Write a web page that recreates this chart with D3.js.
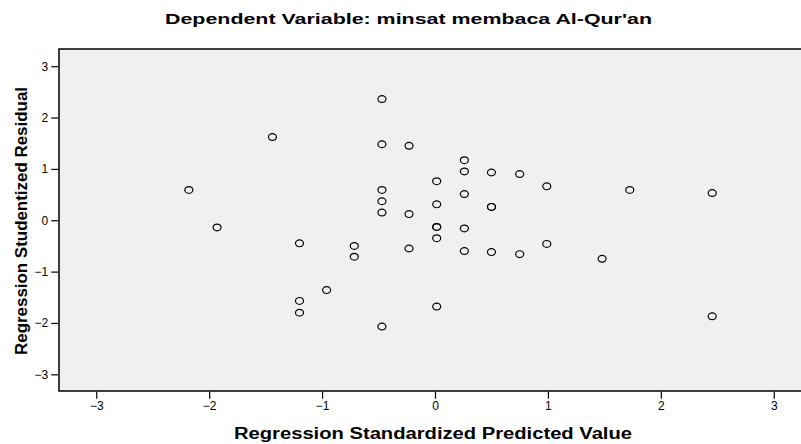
<!DOCTYPE html>
<html>
<head>
<meta charset="utf-8">
<script src="https://cdn.jsdelivr.net/npm/d3@7"></script>
<style>
  body { margin: 0; background: #fff; }
  text { font-family: "Liberation Sans", Arial, sans-serif; }
</style>
</head>
<body>
<svg id="paper"></svg>
<script>
// standardized predicted value (x) and studentized residual (y)
let predicted = [
    -2.18, -1.93, -1.44, -1.20, -1.20, -1.20, -0.96, -0.715, -0.715,
    -0.47, -0.47, -0.47, -0.47, -0.47, -0.47,
    -0.23, -0.23, -0.23,
    0.015, 0.015, 0.015, 0.015, 0.015, 0.015,
    0.26, 0.26, 0.26, 0.26, 0.26,
    0.50, 0.50, 0.50, 0.50,
    0.75, 0.75, 0.99, 0.99, 1.48, 1.725, 2.455, 2.455
];
let residual = [
    0.59, -0.14, 1.62, -0.45, -1.57, -1.80, -1.36, -0.50, -0.71,
    2.36, 1.48, 0.59, 0.37, 0.15, -2.07,
    1.45, 0.12, -0.55,
    0.76, 0.31, -0.13, -0.13, -0.35, -1.68,
    1.17, 0.95, 0.51, -0.16, -0.60,
    0.93, 0.26, 0.26, -0.62,
    0.90, -0.66, 0.66, -0.46, -0.75, 0.59, 0.53, -1.87
];
let xTicks = [-3, -2, -1, 0, 1, 2, 3];
let yTicks = [-3, -2, -1, 0, 1, 2, 3];

let points = predicted.map((p, i) => ({x: p, y: residual[i]}));

let width = 801, height = 444;
let svg = d3.select("#paper")
    .attr("width", width)
    .attr("height", height);

// plot frame runs past the right edge like the original
let x = d3.scaleLinear().domain([-3.33, 3.33]).range([59, 811]);
let y = d3.scaleLinear().domain([-3.325, 3.335]).range([391, 49]);

svg.append("rect")
    .attr("x", x(-3.33))
    .attr("y", y(3.335))
    .attr("width", x(3.33) - x(-3.33))
    .attr("height", y(-3.325) - y(3.335))
    .attr("fill", "#f0f0f0")
    .attr("stroke", "#000")
    .attr("stroke-width", 1.5);

let xAxis = svg.append("g")
    .attr("transform", "translate(0," + (y(-3.325) + 0.75) + ")")
    .call(d3.axisBottom(x).tickValues(xTicks).tickSize(7).tickPadding(3).tickFormat(d3.format("d")));
let yAxis = svg.append("g")
    .attr("transform", "translate(" + (x(-3.33) - 0.75) + ",0)")
    .call(d3.axisLeft(y).tickValues(yTicks).tickSize(7).tickPadding(3).tickFormat(d3.format("d")));

[xAxis, yAxis].forEach(a => {
    a.select(".domain").remove();
    a.selectAll(".tick line").attr("stroke", "#000").attr("stroke-width", 1.2);
    a.selectAll(".tick text")
        .attr("fill", "#000")
        .style("font-size", "12px")
        .style("font-family", "'Liberation Sans', Arial, sans-serif");
});

svg.append("g")
    .selectAll("ellipse")
    .data(points)
    .enter()
    .append("ellipse")
    .attr("cx", d => x(d.x))
    .attr("cy", d => y(d.y))
    .attr("rx", 4)
    .attr("ry", 3.4)
    .attr("fill", "none")
    .attr("stroke", "#000")
    .attr("stroke-width", 1.2);

// the original image is stretched sideways, so text is stretched to fit too
svg.append("text")
    .attr("x", 165)
    .attr("y", 24)
    .attr("textLength", 487)
    .attr("lengthAdjust", "spacingAndGlyphs")
    .style("font-size", "15px")
    .style("font-weight", "bold")
    .text("Dependent Variable: minsat membaca Al-Qur'an");

svg.append("text")
    .attr("x", 234)
    .attr("y", 439)
    .attr("textLength", 398)
    .attr("lengthAdjust", "spacingAndGlyphs")
    .style("font-size", "16px")
    .style("font-weight", "bold")
    .text("Regression Standardized Predicted Value");

svg.append("text")
    .attr("transform", "translate(27,355) rotate(-90)")
    .attr("textLength", 268)
    .attr("lengthAdjust", "spacingAndGlyphs")
    .style("font-size", "16px")
    .style("font-weight", "bold")
    .text("Regression Studentized Residual");
</script>
</body>
</html>
